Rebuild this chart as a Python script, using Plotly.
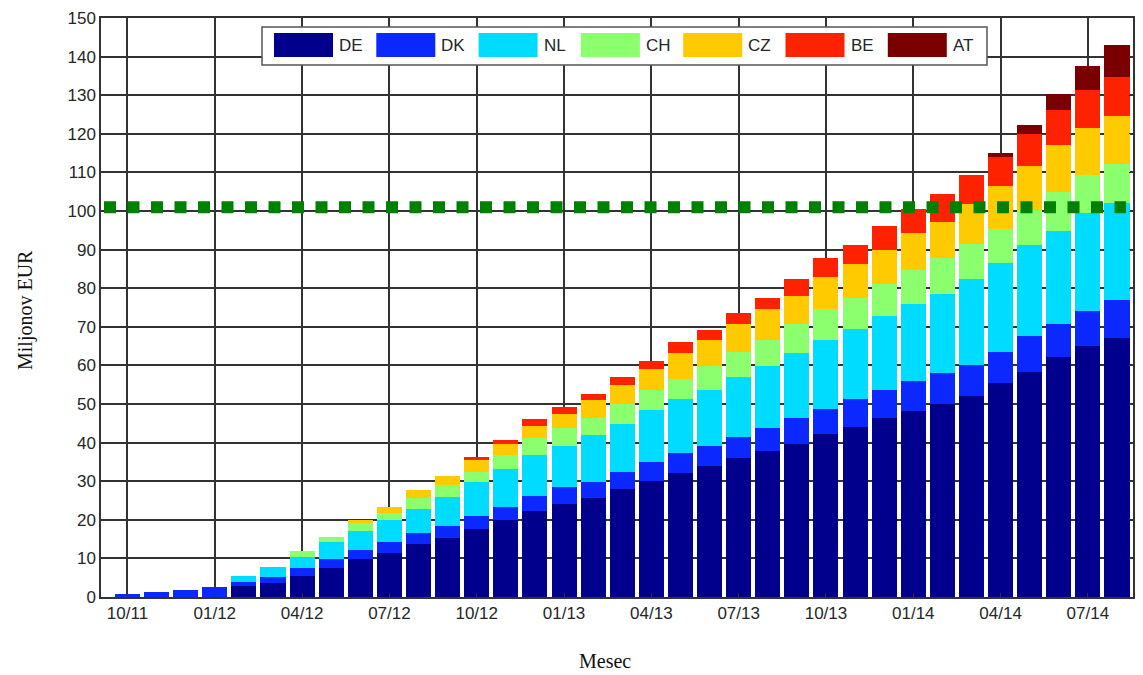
import plotly.graph_objects as go

# ---- data (million EUR, monthly 10/11 .. 08/14) ----
months = ["10/11", "11/11", "12/11", "01/12", "02/12", "03/12", "04/12", "05/12", "06/12",
          "07/12", "08/12", "09/12", "10/12", "11/12", "12/12", "01/13", "02/13", "03/13",
          "04/13", "05/13", "06/13", "07/13", "08/13", "09/13", "10/13", "11/13", "12/13",
          "01/14", "02/14", "03/14", "04/14", "05/14", "06/14", "07/14", "08/14"]

DE = [0, 0, 0, 0, 2.9, 3.6, 5.5, 7.5, 9.8, 11.3, 13.8, 15.2, 17.5, 19.9, 22.4, 24.2, 25.6, 28.0,
      30.1, 32.1, 34.0, 35.9, 37.8, 39.6, 42.1, 44.1, 46.3, 48.2, 50.1, 52.1, 55.5, 58.4, 62.3, 65.1, 67.0]
DK = [0.8, 1.2, 1.8, 2.7, 0.9, 1.5, 2.0, 2.3, 2.4, 2.9, 2.8, 3.3, 3.4, 3.3, 3.8, 4.4, 4.3, 4.5,
      4.8, 5.1, 5.2, 5.6, 6.1, 6.8, 6.7, 7.1, 7.3, 7.7, 7.9, 8.1, 8.1, 9.2, 8.5, 8.9, 9.9]
NL = [0, 0, 0, 0, 1.7, 2.8, 2.9, 4.4, 4.9, 5.7, 6.2, 7.4, 8.8, 9.9, 10.6, 10.6, 12.0, 12.4,
      13.5, 14.0, 14.5, 15.4, 15.9, 16.8, 17.8, 18.2, 19.1, 20.1, 20.5, 22.2, 22.9, 23.5, 24.1, 25.6, 25.1]
CH = [0, 0, 0, 0, 0, 0, 1.5, 1.4, 2.1, 1.9, 2.8, 3.2, 2.8, 3.7, 4.3, 4.7, 4.5, 5.0,
      5.1, 5.3, 6.1, 6.5, 6.8, 7.6, 8.1, 8.1, 8.3, 8.8, 9.3, 9.1, 8.9, 9.2, 10.1, 9.7, 10.1]
CZ = [0, 0, 0, 0, 0, 0, 0, 0, 0.7, 1.5, 2.0, 2.3, 3.0, 2.8, 3.2, 3.6, 4.7, 5.1,
      5.6, 6.7, 6.8, 7.4, 8.0, 7.3, 8.2, 8.8, 9.0, 9.6, 9.4, 10.2, 11.1, 11.4, 12.0, 12.1, 12.6]
BE = [0, 0, 0, 0, 0, 0, 0, 0, 0, 0, 0, 0, 0.7, 1.0, 1.7, 1.6, 1.6, 1.9,
      2.1, 2.9, 2.7, 2.9, 2.9, 4.3, 4.9, 5.0, 6.2, 6.1, 7.3, 7.7, 7.5, 8.3, 9.1, 10.0, 10.1]
AT = [0, 0, 0, 0, 0, 0, 0, 0, 0, 0, 0, 0, 0, 0, 0, 0, 0, 0,
      0, 0, 0, 0, 0, 0, 0, 0, 0, 0, 0, 0, 1.0, 2.3, 4.3, 6.2, 8.2]

countries = ["DE", "DK", "NL", "CH", "CZ", "BE", "AT"]
series = [DE, DK, NL, CH, CZ, BE, AT]
colors = ["#00008C", "#0A28FF", "#00DCFF", "#8CFF6E", "#FFCA00", "#FF2200", "#7A0000"]

TARGET = 101
tick_labels = ["10/11", "01/12", "04/12", "07/12", "10/12", "01/13",
               "04/13", "07/13", "10/13", "01/14", "04/14", "07/14"]

# ---- figure geometry (page body has an 8px offset) ----
OFF = 8
W, H = 1135, 667
ML, MR, MT, MB = 93, 10, 10, 78
PW, PH = W - ML - MR, H - MT - MB

def px(xp):  # screen pixel x -> paper
    return (xp - OFF - ML) / PW

def py(yp):  # screen pixel y -> paper
    return (H - MB - (yp - OFF)) / PH

xidx = list(range(len(months)))
fig = go.Figure()
for name, vals, col in zip(countries, series, colors):
    fig.add_trace(go.Bar(x=xidx, y=vals, name=name, marker=dict(color=col, line=dict(width=0)),
                         showlegend=False, hovertext=months))

fig.add_shape(type="line", xref="paper", yref="y", x0=px(104), x1=px(1126), y0=TARGET, y1=TARGET,
              line=dict(color="#008000", width=12, dash="12px,11.5px"), layer="above")

# custom legend (wide swatches)
fig.add_shape(type="rect", xref="paper", yref="paper", x0=px(262), x1=px(987), y0=py(65), y1=py(27),
              line=dict(color="#555555", width=1.5), fillcolor="white", layer="above")
for i, (name, col) in enumerate(zip(countries, colors)):
    x0 = 274 + i * 102.3
    fig.add_shape(type="rect", xref="paper", yref="paper", x0=px(x0), x1=px(x0 + 59),
                  y0=py(57), y1=py(33), line=dict(width=0), fillcolor=col, layer="above")
    fig.add_annotation(xref="paper", yref="paper", x=px(x0 + 63), y=py(45), text=name,
                       showarrow=False, xanchor="left", yanchor="middle",
                       font=dict(family="Liberation Sans, Arial", size=17, color="#262626"))

fig.add_annotation(xref="paper", yref="paper", x=px(25), y=py(310), text="Miljonov EUR",
                   textangle=-90, showarrow=False, xanchor="center", yanchor="middle",
                   font=dict(family="Liberation Serif, Times New Roman", size=20, color="#111"))
fig.add_annotation(xref="paper", yref="paper", x=px(605), y=py(661), text="Mesec",
                   showarrow=False, xanchor="center", yanchor="middle",
                   font=dict(family="Liberation Serif, Times New Roman", size=20, color="#111"))

axis_common = dict(showline=True, linecolor="#333333", linewidth=1.5, mirror="allticks",
                   ticks="inside", ticklen=4, tickcolor="#333333", showgrid=True,
                   gridcolor="#333333", gridwidth=1.5, zeroline=False, automargin=False,
                   tickfont=dict(family="Liberation Sans, Arial", size=17, color="#262626"))

fig.update_layout(
    width=W, height=H, barmode="stack", bargap=0.14,
    margin=dict(l=ML, r=MR, t=MT, b=MB, pad=0, autoexpand=False),
    paper_bgcolor="white", plot_bgcolor="white",
    xaxis=dict(range=[-0.91, 34.55], tickmode="array",
               tickvals=list(range(0, 34, 3)), ticktext=tick_labels, **axis_common),
    yaxis=dict(range=[0, 150], tickmode="linear", tick0=0, dtick=10, **axis_common),
)

fig.write_html("out.html")
